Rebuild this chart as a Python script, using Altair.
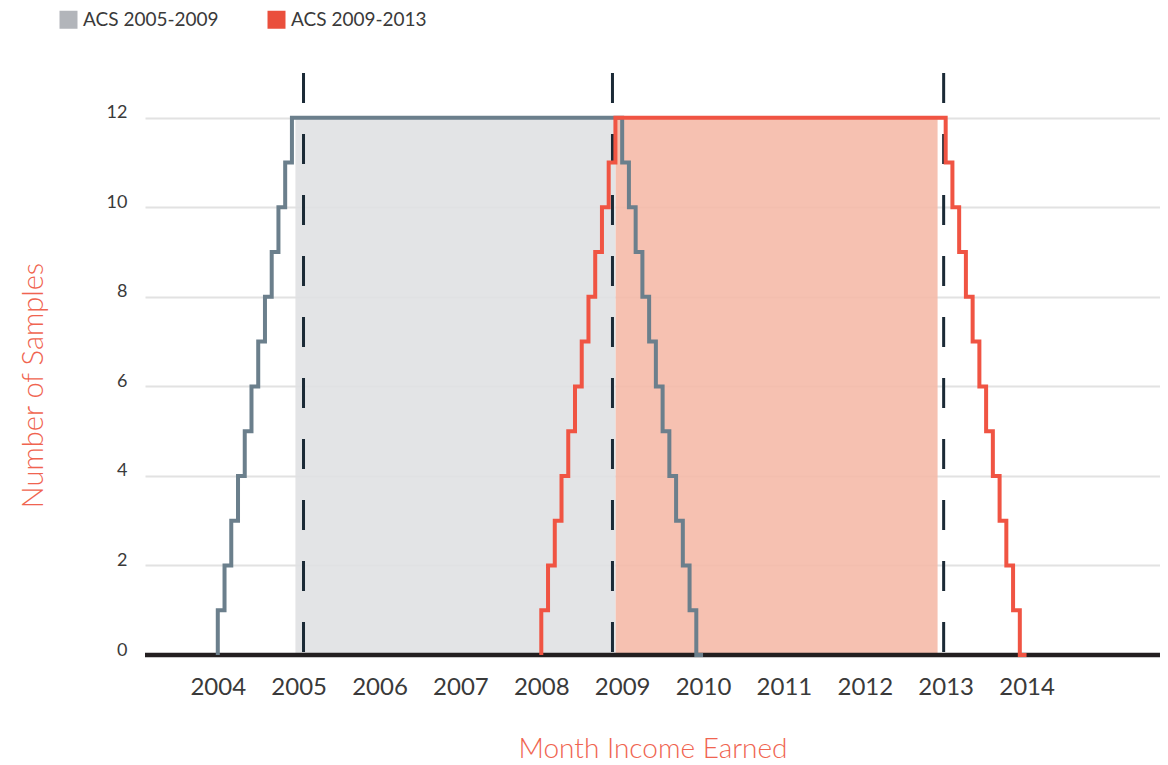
import altair as alt
import pandas as pd

series_names = ["ACS 2005-2009", "ACS 2009-2013"]
legend_colors = ["#b2b5ba", "#ea4f3c"]
shade_colors = ["#e0e1e3", "#f5baa9"]
line_colors = ["#6b7f8c", "#f05443"]

# step points: month income earned -> number of samples
grey_months = ["2004-01", "2004-01", "2004-02", "2004-03", "2004-04", "2004-05", "2004-06",
               "2004-07", "2004-08", "2004-09", "2004-10", "2004-11", "2004-12",
               "2009-01", "2009-02", "2009-03", "2009-04", "2009-05", "2009-06",
               "2009-07", "2009-08", "2009-09", "2009-10", "2009-11", "2009-12", "2010-01"]
grey_counts = [0, 1, 2, 3, 4, 5, 6, 7, 8, 9, 10, 11, 12,
               11, 10, 9, 8, 7, 6, 5, 4, 3, 2, 1, 0, 0]

red_months = ["2008-01", "2008-01", "2008-02", "2008-03", "2008-04", "2008-05", "2008-06",
              "2008-07", "2008-08", "2008-09", "2008-10", "2008-11", "2008-12",
              "2013-01", "2013-02", "2013-03", "2013-04", "2013-05", "2013-06",
              "2013-07", "2013-08", "2013-09", "2013-10", "2013-11", "2013-12", "2014-01"]
red_counts = [0, 1, 2, 3, 4, 5, 6, 7, 8, 9, 10, 11, 12,
              11, 10, 9, 8, 7, 6, 5, 4, 3, 2, 1, 0, 0]

# shaded survey periods
shade_start = [2004.96, 2008.92]
shade_end = [2008.92, 2012.90]
shade_top = [12, 12]

# dashed markers
dash_x = [2005.06, 2008.88, 2012.975]

year_ticks = [2004, 2005, 2006, 2007, 2008, 2009, 2010, 2011, 2012, 2013, 2014]
y_ticks = [0, 2, 4, 6, 8, 10, 12]


def to_year(m):
    y, mo = m.split("-")
    return int(y) + (int(mo) - 1) / 12.0


grey_df = pd.DataFrame({"x": [to_year(m) for m in grey_months], "y": grey_counts})
red_df = pd.DataFrame({"x": [to_year(m) for m in red_months], "y": red_counts})
dash_df = pd.DataFrame({"x": dash_x})
# legend-only layer: placed outside the visible x range and clipped away
legend_df = pd.DataFrame({"survey": series_names, "x": [1990, 1990], "y": [0, 0]})

title_color = "#f06450"
label_color = "#3a3a3a"

xscale = alt.Scale(domain=[2003.1, 2015.65], nice=False, zero=False)
yscale = alt.Scale(domain=[0, 13], nice=False)

xaxis = alt.Axis(values=year_ticks, format="d", grid=False, domain=False, ticks=False,
                 labelFontSize=24, labelColor=label_color, labelPadding=20,
                 title="Month Income Earned", titleFontSize=28, titleFontWeight=300,
                 titleColor=title_color, titlePadding=36)
yaxis = alt.Axis(values=y_ticks, domain=False, ticks=False, grid=True,
                 gridColor="#e2e2e2", gridWidth=2,
                 labelFontSize=18, labelColor=label_color, labelPadding=18, labelOffset=-5,
                 title="Number of Samples", titleFontSize=29, titleFontWeight=300,
                 titleColor=title_color, titlePadding=58, titleY=312)


def shade_layer(i):
    df = pd.DataFrame({"x0": [shade_start[i]], "x1": [shade_end[i]],
                       "bottom": [0], "top": [shade_top[i]]})
    if i == 0:
        xenc = alt.X("x0:Q", scale=xscale, axis=xaxis)
        yenc = alt.Y("bottom:Q", scale=yscale, axis=yaxis)
    else:
        xenc = alt.X("x0:Q", scale=xscale)
        yenc = alt.Y("bottom:Q", scale=yscale)
    return alt.Chart(df).mark_rect(opacity=0.9, color=shade_colors[i]).encode(
        x=xenc, x2="x1:Q", y=yenc, y2="top:Q",
    )


shade_grey = shade_layer(0)
shade_red = shade_layer(1)

legend_layer = alt.Chart(legend_df).mark_square(clip=True).encode(
    x=alt.X("x:Q", scale=xscale),
    y=alt.Y("y:Q", scale=yscale),
    color=alt.Color("survey:N", scale=alt.Scale(domain=series_names, range=legend_colors),
                    legend=alt.Legend(title=None, orient="none", legendX=-86, legendY=-63,
                                      direction="horizontal", symbolType="square",
                                      symbolSize=324, symbolOpacity=1, symbolStrokeWidth=0,
                                      labelFont="Lato", labelFontSize=19, labelColor=label_color,
                                      labelLimit=0, columnPadding=48, labelOffset=5,
                                      padding=0)),
)

dashes = alt.Chart(dash_df).mark_rule(strokeDash=[30, 31], strokeWidth=3, color="#1b2a36").encode(
    x=alt.X("x:Q", scale=xscale)
)

baseline = alt.Chart(pd.DataFrame({"y": [0]})).mark_rule(color="#231f20", strokeWidth=4.5).encode(
    y=alt.Y("y:Q", scale=yscale)
)

grey_line = alt.Chart(grey_df).mark_line(interpolate="step-after", strokeWidth=4,
                                         color=line_colors[0]).encode(
    x=alt.X("x:Q", scale=xscale), y=alt.Y("y:Q", scale=yscale)
)
red_line = alt.Chart(red_df).mark_line(interpolate="step-after", strokeWidth=4,
                                       color=line_colors[1]).encode(
    x=alt.X("x:Q", scale=xscale), y=alt.Y("y:Q", scale=yscale)
)

chart = alt.layer(shade_grey, shade_red, dashes, baseline, grey_line, red_line,
                  legend_layer).properties(
    width=1015, height=582,
    autosize=alt.AutoSizeParams(type="none"),
    padding={"left": 137, "top": 65, "right": 0, "bottom": 108},
).configure(font="Lato").configure_view(stroke=None)

chart.save("out.html", embed_options={"renderer": "svg", "actions": False})
